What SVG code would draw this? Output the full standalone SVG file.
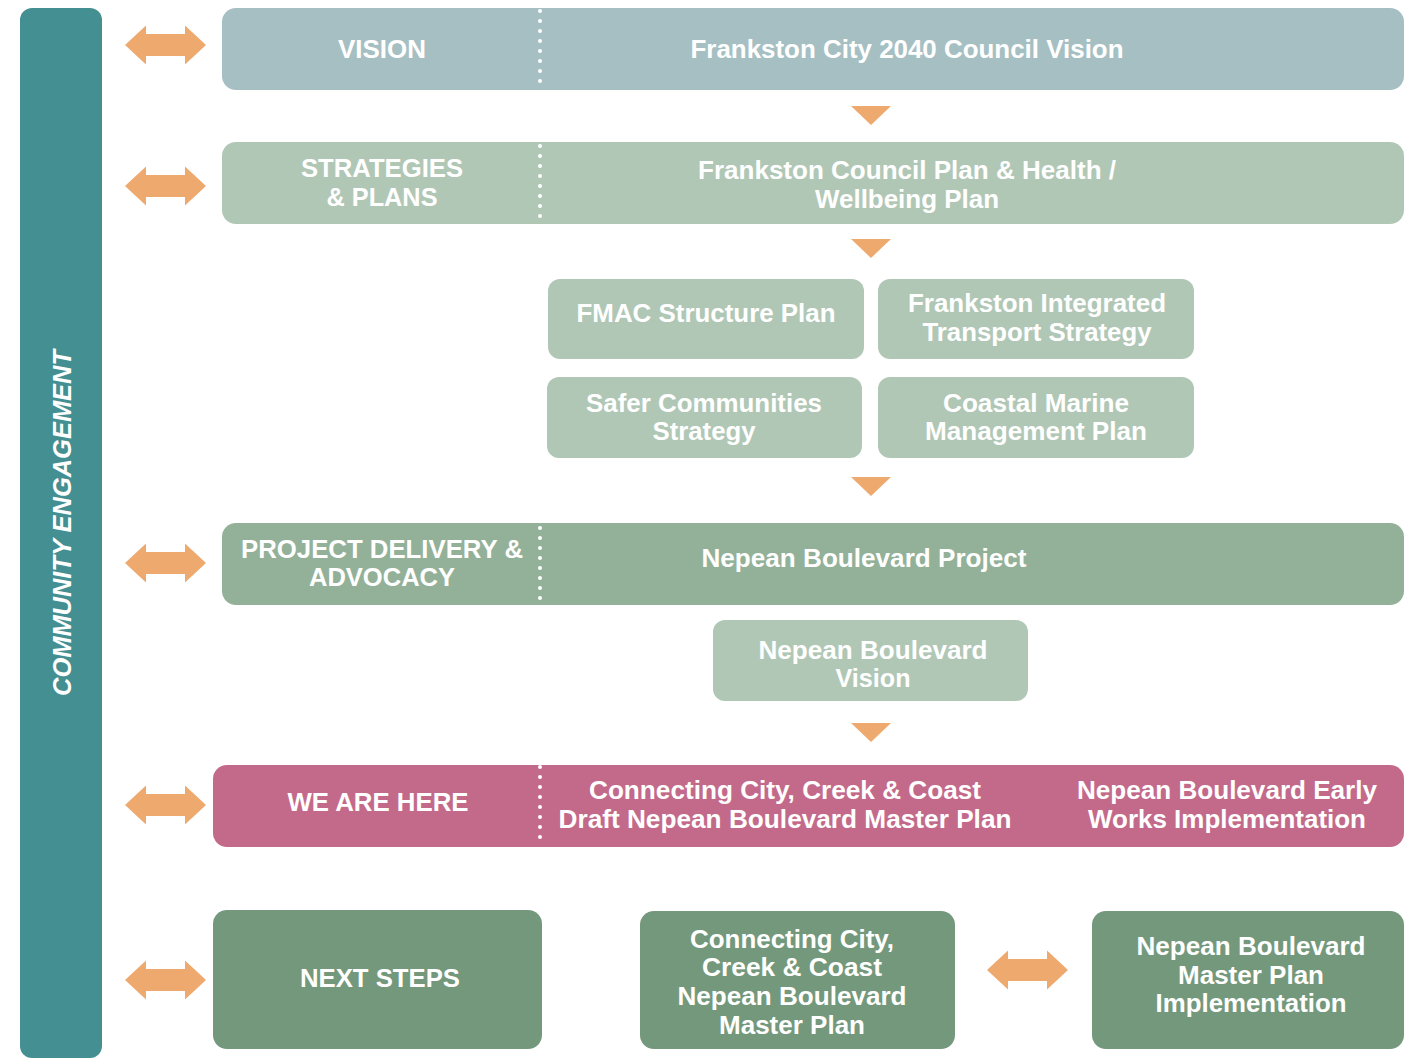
<svg xmlns="http://www.w3.org/2000/svg" xmlns:xlink="http://www.w3.org/1999/xlink" width="1405" height="1059" viewBox="0 0 1405 1059">
  <style>
    .t { font-family: "Liberation Sans", Arial, Helvetica, sans-serif; font-weight: bold; font-size: 26px; fill: #ffffff; text-anchor: middle; }
    .side { font-family: "Liberation Sans", Arial, Helvetica, sans-serif; font-weight: bold; font-style: italic; font-size: 25px; fill: #ffffff; text-anchor: middle; }
    .dots { stroke: #ffffff; stroke-width: 4; stroke-linecap: round; stroke-dasharray: 0 10; fill: none; }
    .blue { fill: #a6bfc3; }
    .pale { fill: #b1c7b6; }
    .mid { fill: #93b199; }
    .pink { fill: #c36a8b; }
    .dark { fill: #74987b; }
    .orange { fill: #eea96e; }
  </style>
  <defs>
    <path id="dbl" d="M-40.5,0 L-19.5,-19.5 L-19.5,-11 L19.5,-11 L19.5,-19.5 L40.5,0 L19.5,19.5 L19.5,11 L-19.5,11 L-19.5,19.5 Z"/>
    <path id="down" d="M-20,0 L20,0 L0,19 Z"/>
  </defs>

  <rect width="1405" height="1059" fill="#ffffff"/>

  <!-- side band -->
  <g id="community-engagement">
    <rect x="20" y="8" width="82" height="1050" rx="12" fill="#448f92"/>
    <text class="side" transform="translate(71,523) rotate(-90)" textLength="346" lengthAdjust="spacingAndGlyphs">COMMUNITY ENGAGEMENT</text>
  </g>

  <!-- tier rows -->
  <g id="vision">
    <rect class="blue" x="222" y="8" width="1182" height="82" rx="14"/>
    <line class="dots" x1="540" y1="11" x2="540" y2="90"/>
    <text class="t" x="382" y="58" textLength="88" lengthAdjust="spacingAndGlyphs">VISION</text>
    <text class="t" x="907" y="58" textLength="433" lengthAdjust="spacingAndGlyphs">Frankston City 2040 Council Vision</text>
  </g>

  <g id="strategies">
    <rect class="pale" x="222" y="142" width="1182" height="82" rx="14"/>
    <line class="dots" x1="540" y1="146" x2="540" y2="224"/>
    <text class="t" x="382" y="177" textLength="162" lengthAdjust="spacingAndGlyphs">STRATEGIES</text>
    <text class="t" x="382" y="206" textLength="111" lengthAdjust="spacingAndGlyphs">&amp; PLANS</text>
    <text class="t" x="907" y="179" textLength="418" lengthAdjust="spacingAndGlyphs">Frankston Council Plan &amp; Health /</text>
    <text class="t" x="907" y="208" textLength="184" lengthAdjust="spacingAndGlyphs">Wellbeing Plan</text>
  </g>

  <g id="fmac">
    <rect class="pale" x="548" y="279" width="316" height="80" rx="12"/>
    <text class="t" x="706" y="322" textLength="259" lengthAdjust="spacingAndGlyphs">FMAC Structure Plan</text>
  </g>

  <g id="transport">
    <rect class="pale" x="878" y="279" width="316" height="80" rx="12"/>
    <text class="t" x="1037" y="312" textLength="258" lengthAdjust="spacingAndGlyphs">Frankston Integrated</text>
    <text class="t" x="1037" y="341" textLength="229" lengthAdjust="spacingAndGlyphs">Transport Strategy</text>
  </g>

  <g id="safer">
    <rect class="pale" x="547" y="377" width="315" height="81" rx="12"/>
    <text class="t" x="704" y="412" textLength="236" lengthAdjust="spacingAndGlyphs">Safer Communities</text>
    <text class="t" x="704" y="440" textLength="103" lengthAdjust="spacingAndGlyphs">Strategy</text>
  </g>

  <g id="coastal">
    <rect class="pale" x="878" y="377" width="316" height="81" rx="12"/>
    <text class="t" x="1036" y="412" textLength="186" lengthAdjust="spacingAndGlyphs">Coastal Marine</text>
    <text class="t" x="1036" y="440" textLength="222" lengthAdjust="spacingAndGlyphs">Management Plan</text>
  </g>

  <g id="project-delivery">
    <rect class="mid" x="222" y="523" width="1182" height="82" rx="14"/>
    <line class="dots" x1="540" y1="528" x2="540" y2="603"/>
    <text class="t" x="382" y="558" textLength="282" lengthAdjust="spacingAndGlyphs">PROJECT DELIVERY &amp;</text>
    <text class="t" x="382" y="586" textLength="146" lengthAdjust="spacingAndGlyphs">ADVOCACY</text>
    <text class="t" x="864" y="567" textLength="325" lengthAdjust="spacingAndGlyphs">Nepean Boulevard Project</text>
  </g>

  <g id="boulevard-vision">
    <rect class="pale" x="713" y="620" width="315" height="81" rx="12"/>
    <text class="t" x="873" y="659" textLength="229" lengthAdjust="spacingAndGlyphs">Nepean Boulevard</text>
    <text class="t" x="873" y="687" textLength="75" lengthAdjust="spacingAndGlyphs">Vision</text>
  </g>

  <g id="we-are-here">
    <rect class="pink" x="213" y="765" width="1191" height="82" rx="14"/>
    <line class="dots" x1="540" y1="767" x2="540" y2="846"/>
    <text class="t" x="378" y="811" textLength="181" lengthAdjust="spacingAndGlyphs">WE ARE HERE</text>
    <text class="t" x="785" y="799" textLength="392" lengthAdjust="spacingAndGlyphs">Connecting City, Creek &amp; Coast</text>
    <text class="t" x="785" y="828" textLength="453" lengthAdjust="spacingAndGlyphs">Draft Nepean Boulevard Master Plan</text>
    <text class="t" x="1227" y="799" textLength="300" lengthAdjust="spacingAndGlyphs">Nepean Boulevard Early</text>
    <text class="t" x="1227" y="828" textLength="278" lengthAdjust="spacingAndGlyphs">Works Implementation</text>
  </g>

  <g id="next-steps">
    <rect class="dark" x="213" y="910" width="329" height="139" rx="14"/>
    <text class="t" x="380" y="987" textLength="160" lengthAdjust="spacingAndGlyphs">NEXT STEPS</text>
  </g>

  <g id="master-plan">
    <rect class="dark" x="640" y="911" width="315" height="138" rx="14"/>
    <text class="t" x="792" y="948" textLength="204" lengthAdjust="spacingAndGlyphs">Connecting City,</text>
    <text class="t" x="792" y="976" textLength="180" lengthAdjust="spacingAndGlyphs">Creek &amp; Coast</text>
    <text class="t" x="792" y="1005" textLength="229" lengthAdjust="spacingAndGlyphs">Nepean Boulevard</text>
    <text class="t" x="792" y="1034" textLength="146" lengthAdjust="spacingAndGlyphs">Master Plan</text>
  </g>

  <g id="implementation">
    <rect class="dark" x="1092" y="911" width="312" height="138" rx="14"/>
    <text class="t" x="1251" y="955" textLength="229" lengthAdjust="spacingAndGlyphs">Nepean Boulevard</text>
    <text class="t" x="1251" y="984" textLength="146" lengthAdjust="spacingAndGlyphs">Master Plan</text>
    <text class="t" x="1251" y="1012" textLength="191" lengthAdjust="spacingAndGlyphs">Implementation</text>
  </g>

  <!-- connectors: two-way engagement arrows and downward flow markers -->
  <g id="connectors" class="orange">
    <use xlink:href="#dbl" x="165.5" y="45"/>
    <use xlink:href="#dbl" x="165.5" y="186"/>
    <use xlink:href="#dbl" x="165.5" y="563"/>
    <use xlink:href="#dbl" x="165.5" y="805"/>
    <use xlink:href="#dbl" x="165.5" y="980"/>
    <use xlink:href="#dbl" x="1027.5" y="970"/>
    <use xlink:href="#down" x="871" y="106"/>
    <use xlink:href="#down" x="871" y="239"/>
    <use xlink:href="#down" x="871" y="477"/>
    <use xlink:href="#down" x="871" y="723"/>
  </g>
</svg>
